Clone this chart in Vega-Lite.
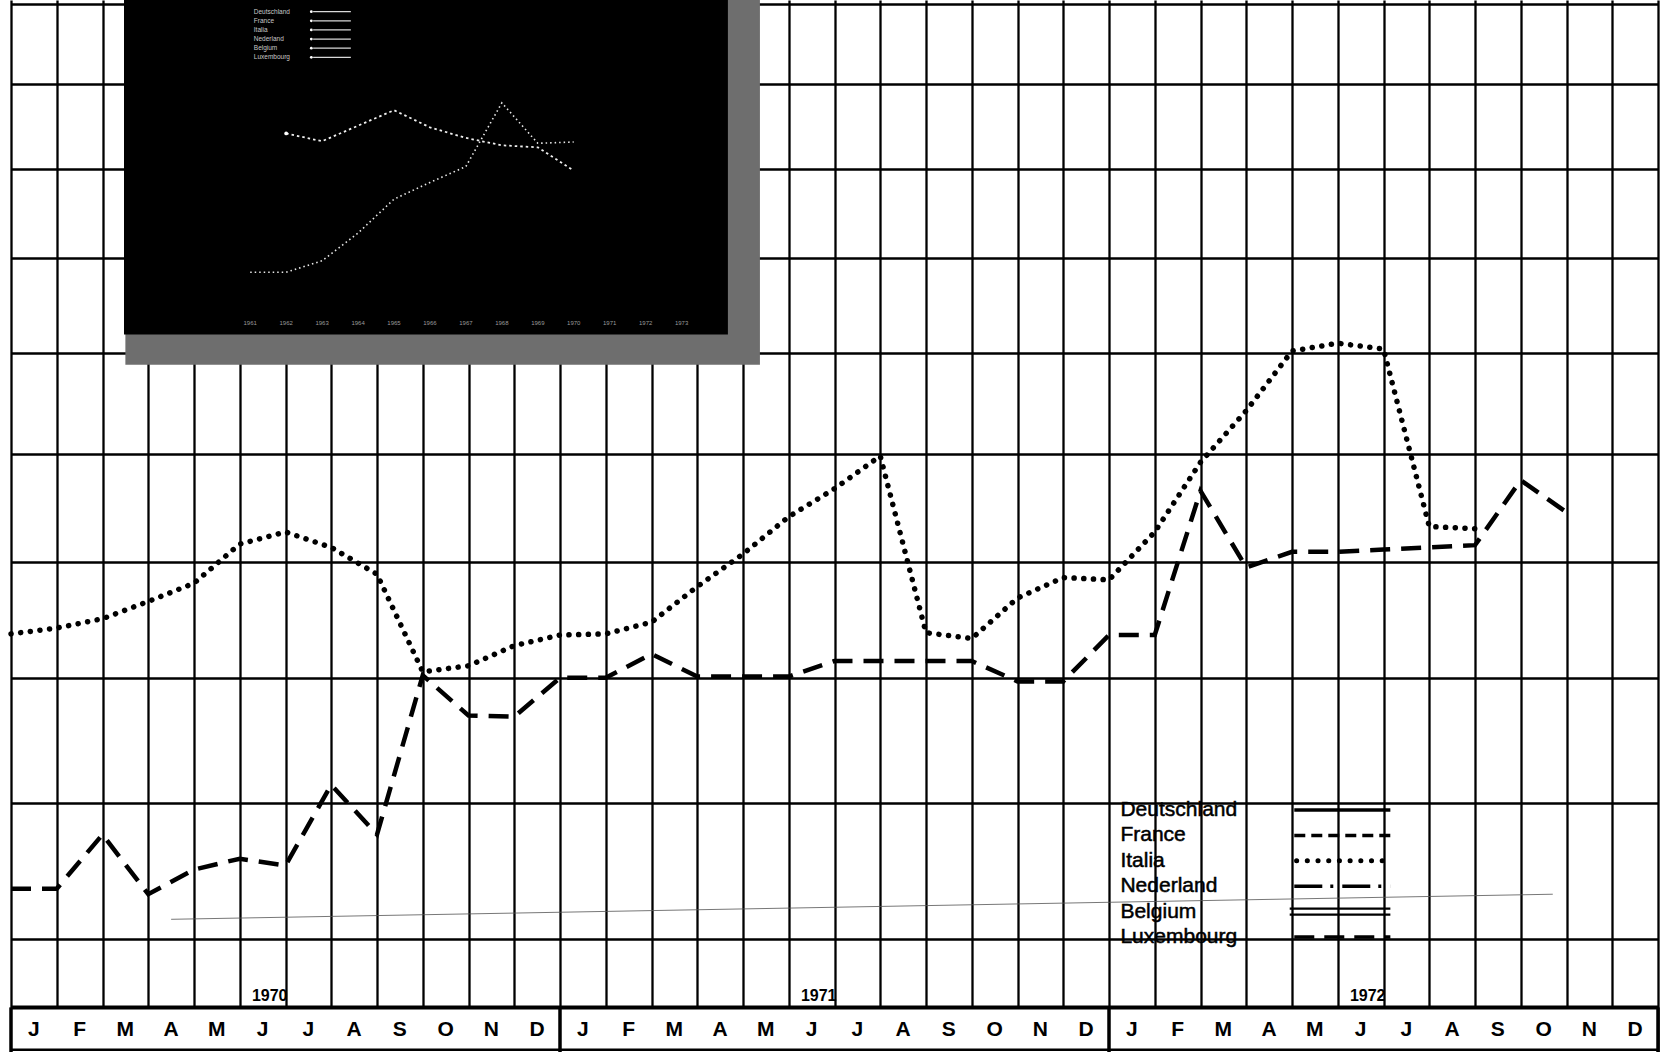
{
  "$schema": "https://vega.github.io/schema/vega-lite/v6.json",
  "width": 1647,
  "height": 1052,
  "autosize": {"type": "none"},
  "padding": {"left": 11, "top": 0, "right": 4, "bottom": 0},
  "background": "white",
  "config": {"view": {"stroke": null}, "font": "Liberation Sans", "text": {"font": "Liberation Sans"}},
  "datasets": {
    "series": [
      {"country": "Italia", "m": 0, "v": 13.37}, {"country": "Italia", "m": 1, "v": 13.42}, {"country": "Italia", "m": 2, "v": 13.50},
      {"country": "Italia", "m": 3, "v": 13.65}, {"country": "Italia", "m": 4, "v": 13.81}, {"country": "Italia", "m": 5, "v": 14.16},
      {"country": "Italia", "m": 6, "v": 14.27}, {"country": "Italia", "m": 7, "v": 14.13}, {"country": "Italia", "m": 8, "v": 13.89},
      {"country": "Italia", "m": 9, "v": 13.05}, {"country": "Italia", "m": 10, "v": 13.10}, {"country": "Italia", "m": 11, "v": 13.27},
      {"country": "Italia", "m": 12, "v": 13.36}, {"country": "Italia", "m": 13, "v": 13.37}, {"country": "Italia", "m": 14, "v": 13.47},
      {"country": "Italia", "m": 15, "v": 13.78}, {"country": "Italia", "m": 16, "v": 14.07}, {"country": "Italia", "m": 17, "v": 14.41},
      {"country": "Italia", "m": 18, "v": 14.67}, {"country": "Italia", "m": 19, "v": 14.98}, {"country": "Italia", "m": 20, "v": 13.38},
      {"country": "Italia", "m": 21, "v": 13.33}, {"country": "Italia", "m": 22, "v": 13.68}, {"country": "Italia", "m": 23, "v": 13.86},
      {"country": "Italia", "m": 24, "v": 13.84}, {"country": "Italia", "m": 25, "v": 14.27}, {"country": "Italia", "m": 26, "v": 14.92},
      {"country": "Italia", "m": 27, "v": 15.42}, {"country": "Italia", "m": 28, "v": 16.02}, {"country": "Italia", "m": 29, "v": 16.10},
      {"country": "Italia", "m": 30, "v": 16.04}, {"country": "Italia", "m": 31, "v": 14.32}, {"country": "Italia", "m": 32, "v": 14.30},
      {"country": "Luxembourg", "m": 0, "v": 11.36}, {"country": "Luxembourg", "m": 1, "v": 11.36}, {"country": "Luxembourg", "m": 2, "v": 11.76},
      {"country": "Luxembourg", "m": 3, "v": 11.32}, {"country": "Luxembourg", "m": 4, "v": 11.50}, {"country": "Luxembourg", "m": 5, "v": 11.58},
      {"country": "Luxembourg", "m": 6, "v": 11.53}, {"country": "Luxembourg", "m": 7, "v": 12.14}, {"country": "Luxembourg", "m": 8, "v": 11.76},
      {"country": "Luxembourg", "m": 9, "v": 13.02}, {"country": "Luxembourg", "m": 10, "v": 12.69}, {"country": "Luxembourg", "m": 11, "v": 12.68},
      {"country": "Luxembourg", "m": 12, "v": 13.00}, {"country": "Luxembourg", "m": 13, "v": 13.00}, {"country": "Luxembourg", "m": 14, "v": 13.20},
      {"country": "Luxembourg", "m": 15, "v": 13.01}, {"country": "Luxembourg", "m": 16, "v": 13.01}, {"country": "Luxembourg", "m": 17, "v": 13.01},
      {"country": "Luxembourg", "m": 18, "v": 13.14}, {"country": "Luxembourg", "m": 19, "v": 13.14}, {"country": "Luxembourg", "m": 20, "v": 13.14},
      {"country": "Luxembourg", "m": 21, "v": 13.14}, {"country": "Luxembourg", "m": 22, "v": 12.97}, {"country": "Luxembourg", "m": 23, "v": 12.97},
      {"country": "Luxembourg", "m": 24, "v": 13.36}, {"country": "Luxembourg", "m": 25, "v": 13.36}, {"country": "Luxembourg", "m": 26, "v": 14.65},
      {"country": "Luxembourg", "m": 27, "v": 13.95}, {"country": "Luxembourg", "m": 28, "v": 14.09}, {"country": "Luxembourg", "m": 29, "v": 14.09},
      {"country": "Luxembourg", "m": 30, "v": 14.11}, {"country": "Luxembourg", "m": 31, "v": 14.13}, {"country": "Luxembourg", "m": 32, "v": 14.15},
      {"country": "Luxembourg", "m": 33, "v": 14.75}, {"country": "Luxembourg", "m": 34, "v": 14.45},
      {"country": "Nederland", "m": 3.5, "v": 11.14}, {"country": "Nederland", "m": 33.7, "v": 11.32}
    ],
    "months": [
      {"n": 1, "mon": "J"}, {"n": 2, "mon": "F"}, {"n": 3, "mon": "M"}, {"n": 4, "mon": "A"}, {"n": 5, "mon": "M"}, {"n": 6, "mon": "J"},
      {"n": 7, "mon": "J"}, {"n": 8, "mon": "A"}, {"n": 9, "mon": "S"}, {"n": 10, "mon": "O"}, {"n": 11, "mon": "N"}, {"n": 12, "mon": "D"},
      {"n": 13, "mon": "J"}, {"n": 14, "mon": "F"}, {"n": 15, "mon": "M"}, {"n": 16, "mon": "A"}, {"n": 17, "mon": "M"}, {"n": 18, "mon": "J"},
      {"n": 19, "mon": "J"}, {"n": 20, "mon": "A"}, {"n": 21, "mon": "S"}, {"n": 22, "mon": "O"}, {"n": 23, "mon": "N"}, {"n": 24, "mon": "D"},
      {"n": 25, "mon": "J"}, {"n": 26, "mon": "F"}, {"n": 27, "mon": "M"}, {"n": 28, "mon": "A"}, {"n": 29, "mon": "M"}, {"n": 30, "mon": "J"},
      {"n": 31, "mon": "J"}, {"n": 32, "mon": "A"}, {"n": 33, "mon": "S"}, {"n": 34, "mon": "O"}, {"n": 35, "mon": "N"}, {"n": 36, "mon": "D"}
    ],
    "years": [{"yr": "1970", "m": 6}, {"yr": "1971", "m": 18}, {"yr": "1972", "m": 30}],
    "bounds": [{"b": 0}, {"b": 12}, {"b": 24}, {"b": 36}],
    "legend": [{"country": "Deutschland"}, {"country": "France"}, {"country": "Italia"}, {"country": "Nederland"}, {"country": "Belgium"}, {"country": "Luxembourg"}],
    "inset": [
      {"s": "A", "year": 1961, "val": 9.59}, {"s": "A", "year": 1962, "val": 9.59}, {"s": "A", "year": 1963, "val": 9.87},
      {"s": "A", "year": 1964, "val": 10.55}, {"s": "A", "year": 1965, "val": 11.38}, {"s": "A", "year": 1966, "val": 11.79},
      {"s": "A", "year": 1967, "val": 12.18}, {"s": "A", "year": 1968, "val": 13.74}, {"s": "A", "year": 1969, "val": 12.75},
      {"s": "A", "year": 1970, "val": 12.78},
      {"s": "B", "year": 1962, "val": 12.99}, {"s": "B", "year": 1963, "val": 12.80}, {"s": "B", "year": 1964, "val": 13.18},
      {"s": "B", "year": 1965, "val": 13.56}, {"s": "B", "year": 1966, "val": 13.14}, {"s": "B", "year": 1967, "val": 12.88},
      {"s": "B", "year": 1968, "val": 12.70}, {"s": "B", "year": 1969, "val": 12.65}, {"s": "B", "year": 1970, "val": 12.08}
    ],
    "insetYears": [
      {"year": 1961, "lab": "1961"}, {"year": 1962, "lab": "1962"}, {"year": 1963, "lab": "1963"}, {"year": 1964, "lab": "1964"},
      {"year": 1965, "lab": "1965"}, {"year": 1966, "lab": "1966"}, {"year": 1967, "lab": "1967"}, {"year": 1968, "lab": "1968"},
      {"year": 1969, "lab": "1969"}, {"year": 1970, "lab": "1970"}, {"year": 1971, "lab": "1971"}, {"year": 1972, "lab": "1972"},
      {"year": 1973, "lab": "1973"}
    ],
    "one": [{}]
  },
  "layer": [
    {
      "layer": [
        {
          "data": {"name": "series"},
          "transform": [{"filter": "datum.country === 'Italia'"}],
          "mark": {"type": "line", "color": "black", "strokeWidth": 5.5, "strokeCap": "round", "strokeDash": [0.1, 9.6]},
          "encoding": {
            "x": {"field": "m", "type": "quantitative",
              "scale": {"domain": [0, 36], "nice": false, "zero": false},
              "axis": {"title": null, "values": [0,1,2,3,4,5,6,7,8,9,10,11,12,13,14,15,16,17,18,19,20,21,22,23,24,25,26,27,28,29,30,31,32,33,34,35,36],
                "grid": true, "gridColor": "black", "gridWidth": 2.3, "gridOpacity": 1, "labels": false, "ticks": false, "domain": false}},
            "y": {"field": "v", "type": "quantitative",
              "scale": {"type": "log", "domain": [10.234, 20.05], "nice": false, "zero": false},
              "axis": {"title": null, "values": [11,12,13,14,15,16,17,18,19,20],
                "grid": true, "gridColor": "black", "gridWidth": 2.3, "gridOpacity": 1, "labels": false, "ticks": false, "domain": false}}
          }
        },
        {
          "data": {"name": "series"},
          "transform": [{"filter": "datum.country === 'Luxembourg'"}],
          "mark": {"type": "line", "color": "black", "strokeWidth": 4.5, "strokeDash": [20, 11]},
          "encoding": {
            "x": {"field": "m", "type": "quantitative"},
            "y": {"field": "v", "type": "quantitative"}
          }
        },
        {
          "data": {"name": "series"},
          "transform": [{"filter": "datum.country === 'Nederland'"}],
          "mark": {"type": "line", "color": "#555555", "strokeWidth": 1, "opacity": 0.8},
          "encoding": {
            "x": {"field": "m", "type": "quantitative"},
            "y": {"field": "v", "type": "quantitative"}
          }
        },
        {
          "data": {"name": "one"},
          "mark": {"type": "rect", "color": "#6e6e6e"},
          "encoding": {
            "x": {"datum": 2.5, "type": "quantitative"}, "x2": {"datum": 16.37},
            "y": {"datum": 20.1, "type": "quantitative"}, "y2": {"datum": 15.88}
          }
        },
        {
          "data": {"name": "one"},
          "mark": {"type": "rect", "color": "black"},
          "encoding": {
            "x": {"datum": 2.47, "type": "quantitative"}, "x2": {"datum": 15.67},
            "y": {"datum": 20.1, "type": "quantitative"}, "y2": {"datum": 16.19}
          }
        },
        {
          "data": {"name": "one"},
          "mark": {"type": "rect", "color": "white"},
          "encoding": {
            "x": {"datum": 0, "type": "quantitative"}, "x2": {"datum": 36},
            "y": {"datum": 10.234, "type": "quantitative"}, "y2": {"datum": 10.53}
          }
        },
        {
          "data": {"name": "one"},
          "mark": {"type": "rule", "color": "black", "strokeWidth": 4},
          "encoding": {"y": {"datum": 10.53, "type": "quantitative"}}
        },
        {
          "data": {"name": "one"},
          "mark": {"type": "rule", "color": "black", "strokeWidth": 2.5},
          "encoding": {"y": {"datum": 10.249, "type": "quantitative"}}
        },
        {
          "data": {"name": "bounds"},
          "mark": {"type": "rule", "color": "black", "strokeWidth": 3.5},
          "encoding": {
            "x": {"field": "b", "type": "quantitative"},
            "y": {"datum": 10.234, "type": "quantitative"}, "y2": {"datum": 10.53}
          }
        },
        {
          "data": {"name": "months"},
          "mark": {"type": "text", "fontSize": 21, "fontWeight": "bold", "align": "center", "baseline": "middle", "dx": -22.9, "color": "black"},
          "encoding": {
            "x": {"field": "n", "type": "quantitative"},
            "y": {"datum": 10.38, "type": "quantitative"},
            "text": {"field": "mon"}
          }
        },
        {
          "data": {"name": "years"},
          "mark": {"type": "text", "fontSize": 16, "fontWeight": "bold", "align": "right", "baseline": "alphabetic", "dx": 2, "dy": -6, "color": "black"},
          "encoding": {
            "x": {"field": "m", "type": "quantitative"},
            "y": {"datum": 10.53, "type": "quantitative"},
            "text": {"field": "yr"}
          }
        }
      ]
    },
    {
      "data": {"name": "legend"},
      "layer": [
        {
          "mark": {"type": "text", "align": "left", "baseline": "middle", "fontSize": 21, "color": "black", "stroke": "black", "strokeWidth": 0.5},
          "encoding": {
            "x": {"datum": 24.25, "type": "quantitative", "scale": {"domain": [0, 36], "nice": false, "zero": false}, "axis": null},
            "y": {"field": "country", "type": "nominal", "sort": null,
              "scale": {"type": "point", "domain": ["Deutschland", "France", "Italia", "Nederland", "Belgium", "Luxembourg"], "range": [810, 937], "padding": 0},
              "axis": null},
            "text": {"field": "country"}
          }
        },
        {
          "transform": [{"filter": "datum.country !== 'Belgium' && datum.country !== 'Italia'"}],
          "mark": {"type": "rule", "color": "black", "strokeWidth": 3.5},
          "encoding": {
            "x": {"datum": 28.05, "type": "quantitative"}, "x2": {"datum": 30.15},
            "y": {"field": "country", "type": "nominal"},
            "strokeDash": {"field": "country", "type": "nominal",
              "scale": {"domain": ["Deutschland", "France", "Nederland", "Luxembourg"], "range": [[1, 0], [11, 6], [28, 8, 3, 9], [20, 10]]},
              "legend": null}
          }
        },
        {
          "transform": [{"filter": "datum.country === 'Italia'"}],
          "mark": {"type": "rule", "color": "black", "strokeWidth": 5, "strokeCap": "round", "strokeDash": [0.1, 10.6]},
          "encoding": {
            "x": {"datum": 28.1, "type": "quantitative"}, "x2": {"datum": 30.1},
            "y": {"field": "country", "type": "nominal"}
          }
        },
        {
          "transform": [{"filter": "datum.country === 'Belgium'"}],
          "mark": {"type": "rule", "color": "black", "strokeWidth": 2.2, "yOffset": -3},
          "encoding": {
            "x": {"datum": 27.95, "type": "quantitative"}, "x2": {"datum": 30.15},
            "y": {"field": "country", "type": "nominal"}
          }
        },
        {
          "transform": [{"filter": "datum.country === 'Belgium'"}],
          "mark": {"type": "rule", "color": "black", "strokeWidth": 2.2, "yOffset": 3},
          "encoding": {
            "x": {"datum": 27.95, "type": "quantitative"}, "x2": {"datum": 30.15},
            "y": {"field": "country", "type": "nominal"}
          }
        }
      ]
    },
    {
      "layer": [
        {
          "layer": [
            {
              "data": {"name": "inset"},
              "transform": [{"filter": "datum.s === 'A'"}],
              "mark": {"type": "line", "color": "#e8e8e8", "strokeWidth": 1.6, "strokeDash": [1.5, 3]},
              "encoding": {
                "x": {"field": "year", "type": "quantitative", "scale": {"domain": [1961, 1973], "range": [239.2, 670.6], "nice": false, "zero": false}, "axis": null},
                "y": {"field": "val", "type": "quantitative", "scale": {"domain": [10, 16], "range": [255.5, 10.6], "nice": false, "zero": false}, "axis": null}
              }
            },
            {
              "data": {"name": "inset"},
              "transform": [{"filter": "datum.s === 'B'"}],
              "mark": {"type": "line", "color": "#f0f0f0", "strokeWidth": 1.8, "strokeDash": [2.5, 3]},
              "encoding": {
                "x": {"field": "year", "type": "quantitative"},
                "y": {"field": "val", "type": "quantitative"}
              }
            },
            {
              "data": {"name": "inset"},
              "transform": [{"filter": "datum.s === 'B' && datum.year === 1962"}],
              "mark": {"type": "point", "filled": true, "color": "white", "size": 14, "opacity": 1},
              "encoding": {
                "x": {"field": "year", "type": "quantitative"},
                "y": {"field": "val", "type": "quantitative"}
              }
            },
            {
              "data": {"name": "insetYears"},
              "mark": {"type": "text", "fontSize": 6, "color": "#9a9a9a", "align": "center", "baseline": "middle"},
              "encoding": {
                "x": {"field": "year", "type": "quantitative"},
                "y": {"datum": 8.35, "type": "quantitative"},
                "text": {"field": "lab"}
              }
            }
          ]
        },
        {
          "data": {"name": "legend"},
          "layer": [
            {
              "mark": {"type": "text", "fontSize": 6.5, "color": "#c8c8c8", "align": "left", "baseline": "middle"},
              "encoding": {
                "x": {"datum": 1961.1, "type": "quantitative"},
                "y": {"field": "country", "type": "nominal", "sort": null,
                  "scale": {"type": "point", "domain": ["Deutschland", "France", "Italia", "Nederland", "Belgium", "Luxembourg"], "range": [11.7, 57.3], "padding": 0},
                  "axis": null},
                "text": {"field": "country"}
              }
            },
            {
              "mark": {"type": "rule", "color": "#d8d8d8", "strokeWidth": 1.3},
              "encoding": {
                "x": {"datum": 1962.75, "type": "quantitative"}, "x2": {"datum": 1963.8},
                "y": {"field": "country", "type": "nominal"}
              }
            },
            {
              "mark": {"type": "point", "filled": true, "color": "white", "size": 8, "opacity": 1},
              "encoding": {
                "x": {"datum": 1962.7, "type": "quantitative"},
                "y": {"field": "country", "type": "nominal"}
              }
            }
          ]
        }
      ],
      "resolve": {"scale": {"y": "independent"}}
    }
  ],
  "resolve": {"scale": {"x": "independent", "y": "independent", "strokeDash": "independent"}}
}
